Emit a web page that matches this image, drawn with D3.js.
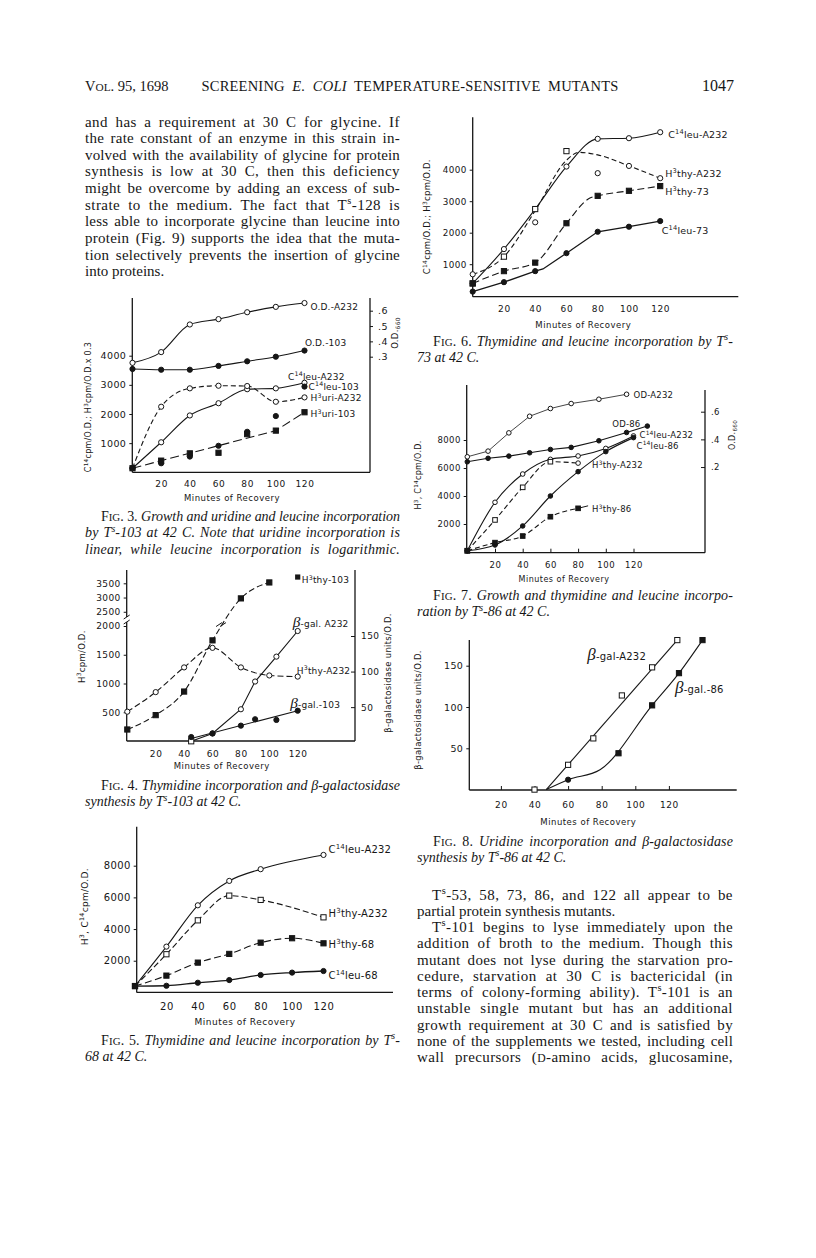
<!DOCTYPE html>
<html>
<head>
<meta charset="utf-8">
<script src="https://cdn.jsdelivr.net/npm/d3@7"></script>
<style>
  html, body { margin: 0; padding: 0; background: #fff; }
  svg { display: block; }
</style>
</head>
<body>
<svg width="816" height="1258"></svg>
<script>
// values (J. Bacteriol. vol 95, p 1047)
// series points are [minutes, value] or [minutes, value, marker]

// fig 3 - growth, uridine + leucine incorporation, Ts-103
var f3Min = [0, 20, 40, 60, 80, 100, 120];
var f3OdA232 = [0.26, 0.33, 0.51, 0.545, 0.59, 0.625, 0.65];
var f3Od103 = [0.22, 0.215, 0.215, 0.24, 0.27, 0.30, 0.34];
var f3LeuA232 = [140, 1030, 1950, 2370, 2850, 2880, 3070];
var f3UriA232 = [140, 2250, 2880, 2970, 2960, 2420, 2570];
var f3Leu103 = [null, 310, 540, 910, 1390, 1930, 2940];
var f3Uri103 = [140, 400, 650, 670, 1310, 1430, 2060];
var f3Uri103Line = [[0, 140], [100, 1430], [120, 2060]];

// fig 4 - thymidine + beta-gal, Ts-103
var f4Thy103 = [[0, 200], [20, 450], [40, 860], [60, 1750], [80, 2970], [100, 3530]];
var f4ThyA232 = [[0, 510], [20, 850], [40, 1280], [60, 1620], [80, 1280], [100, 1140], [120, 1120]];
var f4GalA232 = [[45, 2, 'os'], [60, 13], [80, 47], [90, 86], [105, 121], [120, 157]];
var f4Gal103 = [[45, 8], [60, 13], [80, 24], [90, 33], [105, 32], [120, 45]];
var f4Gal103Line = [[45, 6], [120, 45]];

// fig 5 - thymidine + leucine, Ts-68
var f5LeuA232 = [[0, 400], [20, 2890], [40, 5500], [60, 7040], [80, 7780], [120, 8680]];
var f5ThyA232 = [[0, 400], [20, 2410], [40, 4550], [60, 6110], [80, 5840], [120, 4740]];
var f5Thy68 = [[0, 400], [20, 1060], [40, 1880], [60, 2430], [80, 3140], [100, 3420], [120, 3100]];
var f5Leu68 = [[0, 400], [20, 420], [40, 610], [60, 780], [80, 1100], [100, 1250], [120, 1350]];

// fig 6 - thymidine + leucine, Ts-73
var f6LeuA232 = [[0, 390], [20, 1480], [40, 2750], [60, 4100], [80, 4980], [100, 5000], [120, 5190]];
var f6ThyA232 = [[0, 390, 'os'], [20, 1240, 'os'], [40, 2750, 'os'], [60, 4590, 'os'], [100, 4120], [120, 3730]];
var f6ThyA232Line = [[0, 680], [20, 1240], [40, 2700], [60, 4300], [68, 4550], [80, 4470], [100, 4120], [120, 3730]];
var f6Stray = [[0, 680], [40, 2330], [80, 3890]];
var f6Thy73 = [[0, 390], [20, 780], [40, 1050], [60, 2300], [75, 3100], [80, 3170], [100, 3330], [120, 3480]];
var f6Leu73 = [[0, 130], [20, 430], [40, 780], [45, 850], [60, 1350], [80, 2030], [100, 2190], [120, 2370]];

// fig 7 - growth, thymidine + leucine, Ts-86
var f7OdA232 = [[0, 0.274], [15, 0.315], [30, 0.447], [45, 0.567], [60, 0.623], [75, 0.659], [95, 0.690], [115, 0.726]];
var f7Od86 = [[0, 0.238], [15, 0.263], [30, 0.279], [45, 0.303], [60, 0.327], [75, 0.342], [95, 0.390], [115, 0.450], [130, 0.496]];
var f7LeuA232 = [[0, 90], [20, 3550], [40, 5570], [60, 6620], [80, 6860], [100, 7400], [120, 8290]];
var f7ThyA232 = [[0, 90], [20, 2290], [40, 4620], [60, 6450], [80, 6350, 'oc']];
var f7Leu86 = [[0, 90], [20, 500], [40, 1860], [60, 4000], [80, 5740], [100, 7170], [120, 8170]];
var f7Thy86 = [[0, 90], [20, 670], [40, 1140], [60, 2520], [80, 3120]];

// fig 8 - beta-galactosidase, Ts-86
var f8GalA232 = [[40, 0], [60, 30], [75, 62], [92, 114], [110, 148], [125, 181]];
var f8GalA232Line = [[47, 0], [125, 181]];
var f8Gal86 = [[60, 12, 'fc'], [90, 44], [110, 102], [126, 141], [140, 181]];
var f8Gal86Line = [[47, 0], [60, 12], [79, 24], [110, 102], [126, 141], [140, 181]];

// tick values
var tMin = [20, 40, 60, 80, 100, 120];

// page text
var headLeft = 'V[OL]. 95, 1698';
var headMid = 'SCREENING _E. COLI_ TEMPERATURE-SENSITIVE MUTANTS';
var headPage = '1047';

var leftPara = [
  'and has a requirement at 30 C for glycine. If',
  'the rate constant of an enzyme in this strain in-',
  'volved with the availability of glycine for protein',
  'synthesis is low at 30 C, then this deficiency',
  'might be overcome by adding an excess of sub-',
  'strate to the medium. The fact that T{s}-128 is',
  'less able to incorporate glycine than leucine into',
  'protein (Fig. 9) supports the idea that the muta-',
  'tion selectively prevents the insertion of glycine',
  'into proteins.'
];
var rightPara = [
  'T{s}-53, 58, 73, 86, and 122 all appear to be',
  'partial protein synthesis mutants.',
  'T{s}-101 begins to lyse immediately upon the',
  'addition of broth to the medium. Though this',
  'mutant does not lyse during the starvation pro-',
  'cedure, starvation at 30 C is bactericidal (in',
  'terms of colony-forming ability). T{s}-101 is an',
  'unstable single mutant but has an additional',
  'growth requirement at 30 C and is satisfied by',
  'none of the supplements we tested, including cell',
  'wall precursors ([D]-amino acids, glucosamine,'
];

var cap3 = ['F[IG]. 3. _Growth and uridine and leucine incorporation_',
  '_by T{s}-103 at 42 C. Note that uridine incorporation is_',
  '_linear, while leucine incorporation is logarithmic._'];
var cap4 = ['F[IG]. 4. _Thymidine incorporation and β-galactosidase_',
  '_synthesis by T{s}-103 at 42 C._'];
var cap5 = ['F[IG]. 5. _Thymidine and leucine incorporation by T{s}-_',
  '_68 at 42 C._'];
var cap6 = ['F[IG]. 6. _Thymidine and leucine incorporation by T{s}-_',
  '_73 at 42 C._'];
var cap7 = ['F[IG]. 7. _Growth and thymidine and leucine incorpo-_',
  '_ration by T{s}-86 at 42 C._'];
var cap8 = ['F[IG]. 8. _Uridine incorporation and β-galactosidase_',
  '_synthesis by T{s}-86 at 42 C._'];

var INK = '#161616';
var SANS = 'DejaVu Sans, sans-serif';
var SERIF = 'Liberation Serif, Times New Roman, serif';

var svg = d3.select('svg');
svg.append('rect').attr('width', 816).attr('height', 1258).attr('fill', '#fff');

// mini markup: _italic_ {sup} |sub| [small caps] ~big greek~
function runs(str) {
  var out = [], cur = '', st = { it: false, sup: false, sub: false, sc: false, big: false };
  function push() {
    if (cur) out.push({ t: cur, it: st.it, sup: st.sup, sub: st.sub, sc: st.sc, big: st.big });
    cur = '';
  }
  for (var i = 0; i < str.length; i++) {
    var c = str[i];
    if (c === '_') { push(); st.it = !st.it; }
    else if (c === '{') { push(); st.sup = true; }
    else if (c === '}') { push(); st.sup = false; }
    else if (c === '|') { push(); st.sub = !st.sub; }
    else if (c === '[') { push(); st.sc = true; }
    else if (c === ']') { push(); st.sc = false; }
    else if (c === '~') { push(); st.big = !st.big; }
    else cur += c;
  }
  push();
  return out;
}

function rich(g, x, y, str, o) {
  o = o || {};
  var size = o.size || 14;
  var t = g.append('text').attr('x', x).attr('y', y)
    .attr('font-family', o.family || SERIF).attr('font-size', size).attr('fill', INK);
  if (o.anchor) t.attr('text-anchor', o.anchor);
  if (o.ls) t.attr('letter-spacing', o.ls);
  if (o.transform) t.attr('transform', o.transform);
  var shift = 0;
  runs(str).forEach(function (r) {
    var sp = t.append('tspan').text(r.t);
    var want = r.sup ? -size * 0.4 : (r.sub ? size * 0.25 : 0);
    if (want !== shift) { sp.attr('dy', want - shift); shift = want; }
    if (r.sup || r.sub) sp.attr('font-size', size * 0.7);
    else if (r.sc) sp.attr('font-size', size * 0.78);
    if (r.big) sp.attr('font-size', size * 1.7).attr('font-family', SERIF).attr('font-style', 'italic');
    if (r.it) sp.attr('font-style', 'italic');
  });
  if (o.width) justify(t, o.width);
  return t;
}

// spread a line to the column width: part in the letters, the rest in the word gaps
function justify(t, width) {
  var w = t.node().getComputedTextLength();
  var txt = t.text();
  var n = txt.length;
  var gaps = (txt.match(/ /g) || []).length;
  var extra = width - w;
  if (extra < 0 || gaps === 0) { t.attr('letter-spacing', extra / n); return; }
  var ls = extra * 0.4 / n;
  t.attr('letter-spacing', ls);
  t.attr('word-spacing', (extra - ls * n) / gaps);
}

// ---------- header + body text ----------
var page = svg.append('g');
rich(page, 85, 91, headLeft, { size: 14.5 });
rich(page, 201.5, 91, headMid, { size: 14.5, width: 417 });
rich(page, 702, 91, headPage, { size: 16 });

leftPara.forEach(function (s, i) {
  var lastLine = i === leftPara.length - 1;
  rich(page, 85, 126.5 + i * 16.65, s, { size: 15, width: lastLine ? null : 315 });
});
rightPara.forEach(function (s, i) {
  var ind = (i === 0 || i === 2) ? 15 : 0;
  rich(page, 417 + ind, 899.5 + i * 16.25, s, { size: 15, width: i === 1 ? null : 316 - ind });
});

function caption(lines, x0, w, y0, fullLast) {
  lines.forEach(function (s, i) {
    var ind = i === 0 ? 16 : 0;
    var lastLine = i === lines.length - 1;
    rich(page, x0 + ind, y0 + i * 16.3, s, { size: 14, width: (lastLine && !fullLast) ? null : w - ind });
  });
}
caption(cap3, 85, 315, 521, true);
caption(cap4, 85, 315, 790, false);
caption(cap5, 85, 315, 1045, false);
caption(cap6, 417, 316, 346, false);
caption(cap7, 417, 316, 600, false);
caption(cap8, 417, 316, 845.5, false);

// ---------- chart helpers ----------
function zip(t, v) {
  return t.map(function (d, i) { return [d, v[i]]; }).filter(function (d) { return d[1] != null; });
}

function frame(g, f) {
  var p = [[f.left, f.top, f.left, f.bottom], [f.left, f.bottom, f.end, f.bottom]];
  if (f.right) p.push([f.right, f.rtop || f.top, f.right, f.bottom]);
  g.selectAll(null).data(p).enter().append('line')
    .attr('x1', function (d) { return d[0]; }).attr('y1', function (d) { return d[1]; })
    .attr('x2', function (d) { return d[2]; }).attr('y2', function (d) { return d[3]; })
    .attr('stroke', INK).attr('stroke-width', 1.3);
}

function yAxis(g, y, x0, vals, o) {
  var ax = (o.right ? d3.axisRight(y) : d3.axisLeft(y))
    .tickValues(vals).tickSize(o.inward ? -4 : 3).tickPadding(o.pad || 3)
    .tickFormat(o.fmt || d3.format('d'));
  var a = g.append('g').attr('transform', 'translate(' + x0 + ',0)').call(ax);
  a.select('.domain').remove();
  a.selectAll('line').attr('stroke', INK).attr('stroke-width', 1);
  a.selectAll('text').attr('font-family', SANS).attr('font-size', o.size || 9)
    .attr('fill', INK).attr('letter-spacing', 0.4);
}

function xAxis(g, x, y0, o) {
  var size = o.size || 9;
  var ax = d3.axisBottom(x).tickValues(tMin).tickSize(o.ticks ? -4 : 0)
    .tickPadding(o.base - 0.71 * size).tickFormat(d3.format('d'));
  var a = g.append('g').attr('transform', 'translate(0,' + y0 + ')').call(ax);
  a.select('.domain').remove();
  a.selectAll('line').attr('stroke', INK).attr('stroke-width', 1);
  a.selectAll('text').attr('font-family', SANS).attr('font-size', size)
    .attr('fill', INK).attr('letter-spacing', 0.6);
}

function title(g, x, y, s, size) {
  rich(g, x, y, s, { family: SANS, size: size || 8.5, anchor: 'middle', ls: 0.5 });
}
function vtitle(g, cx, cy, s, size) {
  rich(g, 0, 0, s, { family: SANS, size: size || 8.5, anchor: 'middle', ls: 0.3,
    transform: 'translate(' + (cx + 3) + ',' + cy + ') rotate(-90)' });
}
function tag(g, px, py, s, size) {
  return rich(g, px, py, s, { family: SANS, size: size || 9, ls: 0.2 });
}

function plot(g, x, y, pts, o) {
  var lp = o.line || pts;
  if (o.line !== false) {
    g.append('path').datum(lp)
      .attr('fill', 'none').attr('stroke', INK).attr('stroke-width', o.w || 1.1)
      .attr('stroke-dasharray', o.dash || null)
      .attr('d', d3.line()
        .x(function (d) { return x(d[0]); })
        .y(function (d) { return y(d[1]); })
        .curve(o.curve || d3.curveLinear));
  }
  if (!o.mark) return;
  var kind = function (d) { return d[2] || o.mark; };
  var R = o.r || 2.6;
  g.selectAll(null).data(pts.filter(function (d) { return kind(d)[1] === 'c'; }))
    .enter().append('circle')
    .attr('cx', function (d) { return x(d[0]); }).attr('cy', function (d) { return y(d[1]); })
    .attr('r', R)
    .attr('fill', function (d) { return kind(d)[0] === 'o' ? '#fff' : INK; })
    .attr('stroke', INK).attr('stroke-width', 1);
  g.selectAll(null).data(pts.filter(function (d) { return kind(d)[1] === 's'; }))
    .enter().append('rect')
    .attr('x', function (d) { return x(d[0]) - R; }).attr('y', function (d) { return y(d[1]) - R; })
    .attr('width', R * 2).attr('height', R * 2)
    .attr('fill', function (d) { return kind(d)[0] === 'o' ? '#fff' : INK; })
    .attr('stroke', INK).attr('stroke-width', 1);
}

var smooth = d3.curveMonotoneX;
var odFmt = function (d) { return d3.format('.1f')(d).replace(/^0/, ''); };
function last(a) { return a[a.length - 1]; }

// ---------- fig 3 ----------
(function () {
  var g = svg.append('g');
  var x = d3.scaleLinear().domain([0, 120]).range([132.5, 304.5]);
  var y = d3.scaleLinear().domain([0, 4000]).range([472.3, 355.7]);
  var yr = d3.scaleLinear().domain([0.3, 0.6]).range([356.7, 310.7]);
  frame(g, { left: 132.3, top: 298, bottom: 472.3, end: 370, right: 370 });
  yAxis(g, y, 132.3, [1000, 2000, 3000, 4000], { size: 9.5 });
  yAxis(g, yr, 370, [0.3, 0.4, 0.5, 0.6], { right: true, size: 9.5, fmt: odFmt, pad: 5 });
  xAxis(g, x, 472.3, { base: 15 });
  title(g, 232, 500.5, 'Minutes of Recovery');
  vtitle(g, 88.3, 407, 'C{14}cpm/O.D.; H{3}cpm/O.D.x 0.3', 8);
  vtitle(g, 395, 333, 'O.D.|660|', 8.5);

  var odA = zip(f3Min, f3OdA232), od1 = zip(f3Min, f3Od103);
  var leuA = zip(f3Min, f3LeuA232), uriA = zip(f3Min, f3UriA232);
  var leu1 = zip(f3Min, f3Leu103), uri1 = zip(f3Min, f3Uri103);
  plot(g, x, yr, odA, { curve: smooth, mark: 'oc' });
  plot(g, x, yr, od1, { curve: smooth, mark: 'fc' });
  plot(g, x, y, leuA, { curve: smooth, mark: 'oc' });
  plot(g, x, y, uriA, { curve: smooth, mark: 'oc', dash: '5,3' });
  plot(g, x, y, uri1, { line: f3Uri103Line, mark: 'fs', dash: '9,4' });
  plot(g, x, y, leu1, { line: false, mark: 'fc' });

  tag(g, x(120) + 6, yr(last(odA)[1]) + 7, 'O.D.-A232');
  tag(g, x(120) + 0.5, yr(last(od1)[1]) - 4.5, 'O.D.-103');
  tag(g, x(120) - 16.5, y(last(leuA)[1]) - 3, 'C{14}leu-A232');
  tag(g, x(120) + 4, y(last(leu1)[1]) + 3.5, 'C{14}leu-103');
  tag(g, x(120) + 6, y(last(uriA)[1]) + 4, 'H{3}uri-A232');
  tag(g, x(120) + 6, y(last(uri1)[1]) + 5, 'H{3}uri-103');
})();

// ---------- fig 4 ----------
(function () {
  var g = svg.append('g');
  var x = d3.scaleLinear().domain([0, 120]).range([127.3, 297.7]);
  var y = d3.scaleLinear().domain([0, 2000, 3500]).range([741, 626, 583.3]);
  var yr = d3.scaleLinear().domain([0, 150]).range([742.7, 636]);
  frame(g, { left: 126.7, top: 570, bottom: 741, end: 355, right: 355 });
  yAxis(g, y, 126.7, [500, 1000, 1500, 2000, 2500, 3000, 3500], { size: 9 });
  yAxis(g, yr, 355, [50, 100, 150], { right: true, inward: true, size: 9, pad: 6 });
  // axis break
  g.append('rect').attr('x', 124).attr('y', y(2000) - 9).attr('width', 6).attr('height', 5).attr('fill', '#fff');
  [y(2000) - 4, y(2000) - 9].forEach(function (yy) {
    g.append('line').attr('x1', 123.7).attr('y1', yy + 2).attr('x2', 129.7).attr('y2', yy - 2)
      .attr('stroke', INK).attr('stroke-width', 1);
  });
  xAxis(g, x, 741, { base: 16 });
  title(g, 221.7, 769, 'Minutes of Recovery');
  vtitle(g, 81.7, 656.7, 'H{3}cpm/O.D.', 8.5);
  vtitle(g, 388.3, 673, 'β-galactosidase units/O.D.', 8.5);

  plot(g, x, y, f4Thy103, { curve: smooth, mark: 'fs', dash: '6,3' });
  plot(g, x, y, f4ThyA232, { curve: smooth, mark: 'oc', dash: '6,3' });
  plot(g, x, yr, f4GalA232, { mark: 'oc' });
  plot(g, x, yr, f4Gal103, { line: f4Gal103Line, mark: 'fc' });
  // break marks on the H3thy-103 curve
  [-2, 2].forEach(function (d) {
    g.append('line').attr('x1', x(66) + d - 3).attr('y1', y(2050) + 2)
      .attr('x2', x(66) + d + 3).attr('y2', y(2050) - 2).attr('stroke', INK);
  });

  var t = last(f4Thy103);
  g.append('rect').attr('x', x(120) - 2.6).attr('y', y(t[1]) - 8).attr('width', 5.2).attr('height', 5.2).attr('fill', INK);
  tag(g, x(120) + 4, y(t[1]) + 1, 'H{3}thy-103');
  tag(g, x(120) - 5, yr(last(f4GalA232)[1]) - 4, '~β~-gal. A232');
  tag(g, x(120) - 1, y(last(f4ThyA232)[1]) - 3, 'H{3}thy-A232');
  tag(g, x(120) - 7.5, yr(last(f4Gal103)[1]) - 3, '~β~-gal.-103');
})();

// ---------- fig 5 ----------
(function () {
  var g = svg.append('g');
  var x = d3.scaleLinear().domain([0, 120]).range([135, 323.5]);
  var y = d3.scaleLinear().domain([0, 8000]).range([992.4, 865.7]);
  frame(g, { left: 136.7, top: 826.7, bottom: 992.4, end: 393 });
  yAxis(g, y, 136.7, [2000, 4000, 6000, 8000], { size: 10 });
  xAxis(g, x, 992.4, { base: 18, size: 10 });
  title(g, 245, 1025, 'Minutes of Recovery', 9);
  vtitle(g, 85, 906.7, 'H{3}, C{14}cpm/O.D.', 9);

  plot(g, x, y, f5LeuA232, { curve: smooth, mark: 'oc' });
  plot(g, x, y, f5ThyA232, { curve: smooth, mark: 'os', dash: '6,3' });
  plot(g, x, y, f5Thy68, { curve: smooth, mark: 'fs', dash: '7,3.5' });
  plot(g, x, y, f5Leu68, { curve: smooth, mark: 'fc', w: 1.3 });

  tag(g, x(120) + 5, y(last(f5LeuA232)[1]) - 1.5, 'C{14}leu-A232', 10);
  tag(g, x(120) + 5, y(last(f5ThyA232)[1]) + 0, 'H{3}thy-A232', 10);
  tag(g, x(120) + 5, y(last(f5Thy68)[1]) + 5, 'H{3}thy-68', 10);
  tag(g, x(120) + 5, y(last(f5Leu68)[1]) + 8, 'C{14}leu-68', 10);
})();

// ---------- fig 6 ----------
(function () {
  var g = svg.append('g');
  var x = d3.scaleLinear().domain([0, 120]).range([472.7, 660.2]);
  var y = d3.scaleLinear().domain([0, 4000]).range([295.7, 169.7]);
  frame(g, { left: 472.7, top: 117.3, bottom: 296.7, end: 738.3 });
  yAxis(g, y, 472.7, [1000, 2000, 3000, 4000], { size: 8.8 });
  xAxis(g, x, 296.7, { base: 15.3 });
  title(g, 583.3, 328, 'Minutes of Recovery');
  vtitle(g, 427.3, 216.7, 'C{14}cpm/O.D.; H{3}cpm/O.D.', 8.5);

  plot(g, x, y, f6LeuA232, { curve: smooth, mark: 'oc' });
  plot(g, x, y, f6ThyA232, { line: f6ThyA232Line, curve: smooth, mark: 'oc', dash: '5,3' });
  plot(g, x, y, f6Stray, { line: false, mark: 'oc' });
  plot(g, x, y, f6Thy73.filter(function (d) { return d[0] !== 75; }), { line: f6Thy73, curve: smooth, mark: 'fs', dash: '7,3.5' });
  plot(g, x, y, f6Leu73.filter(function (d) { return d[0] !== 45; }), { line: f6Leu73, mark: 'fc', w: 1.3 });

  tag(g, x(120) + 8, y(last(f6LeuA232)[1]) + 6, 'C{14}leu-A232', 9.5);
  tag(g, x(120) + 5, y(last(f6ThyA232)[1]) - 1, 'H{3}thy-A232', 9.5);
  tag(g, x(120) + 5, y(last(f6Thy73)[1]) + 8.5, 'H{3}thy-73', 9.5);
  tag(g, x(120) + 1.5, y(last(f6Leu73)[1]) + 13, 'C{14}leu-73', 9.5);
})();

// ---------- fig 7 ----------
(function () {
  var g = svg.append('g');
  var x = d3.scaleLinear().domain([0, 120]).range([467.3, 633.5]);
  var y = d3.scaleLinear().domain([0, 8000]).range([552, 440]);
  var yr = d3.scaleLinear().domain([0, 0.6]).range([494.7, 411.7]);
  frame(g, { left: 466.7, top: 385, bottom: 552.7, end: 705, right: 705, rtop: 390 });
  yAxis(g, y, 466.7, [2000, 4000, 6000, 8000], { size: 8.5 });
  yAxis(g, yr, 705, [0.2, 0.4, 0.6], { right: true, inward: true, size: 8.5, fmt: odFmt, pad: 6 });
  xAxis(g, x, 552.7, { base: 15.3, ticks: true, size: 8.5 });
  title(g, 564, 582, 'Minutes of Recovery', 8);
  vtitle(g, 418, 475, 'H{3}, C{14}cpm/O.D.', 8);
  vtitle(g, 731.7, 435, 'O.D.|660|', 8);

  plot(g, x, yr, f7OdA232, { mark: 'oc', w: 0.8, r: 2.3 });
  plot(g, x, yr, f7Od86, { mark: 'fc', r: 2.3 });
  plot(g, x, y, f7LeuA232, { curve: smooth, mark: 'oc', r: 2.3 });
  plot(g, x, y, f7ThyA232, { curve: smooth, mark: 'os', dash: '5,3', r: 2.3 });
  plot(g, x, y, f7Leu86, { curve: smooth, mark: 'fc', r: 2.3 });
  plot(g, x, y, f7Thy86, { curve: smooth, mark: 'fs', dash: '5,3', r: 2.3 });

  var t = last(f7Thy86);
  g.append('line').attr('x1', x(t[0])).attr('y1', y(t[1]))
    .attr('x2', x(t[0]) + 10).attr('y2', y(t[1]) - 2.5).attr('stroke', INK);
  tag(g, x(last(f7OdA232)[0]) + 7, yr(last(f7OdA232)[1]) + 3.5, 'OD-A232', 8.5);
  tag(g, x(last(f7Od86)[0]) - 35, yr(last(f7Od86)[1]) + 1, 'OD-86', 8.5);
  tag(g, x(120) + 6, y(last(f7LeuA232)[1]) + 2.5, 'C{14}leu-A232', 8.5);
  tag(g, x(120) + 3, y(last(f7Leu86)[1]) + 11, 'C{14}leu-86', 8.5);
  tag(g, x(last(f7ThyA232)[0]) + 14, y(last(f7ThyA232)[1]) + 5, 'H{3}thy-A232', 8.5);
  tag(g, x(t[0]) + 14, y(t[1]) + 4, 'H{3}thy-86', 8.5);
})();

// ---------- fig 8 ----------
(function () {
  var g = svg.append('g');
  var x = d3.scaleLinear().domain([0, 140]).range([467.3, 702.5]);
  var y = d3.scaleLinear().domain([0, 150]).range([789.6, 665.7]);
  frame(g, { left: 469.3, top: 640, bottom: 790, end: 736.7 });
  yAxis(g, y, 469.3, [50, 100, 150], { size: 9.5 });
  xAxis(g, x, 790, { base: 18, ticks: true, size: 9 });
  title(g, 588.3, 825, 'Minutes of Recovery', 8.5);
  vtitle(g, 418, 710, 'β-galactosidase units/O.D.', 8.5);

  plot(g, x, y, f8GalA232, { line: f8GalA232Line, mark: 'os' });
  plot(g, x, y, f8Gal86, { line: f8Gal86Line, curve: smooth, mark: 'fs' });

  tag(g, x(last(f8GalA232)[0]) - 90, y(last(f8GalA232)[1]) + 20, '~β~-gal-A232', 10);
  tag(g, x(126) - 4, y(141) + 20, '~β~-gal.-86', 10);
})();
</script>
</body>
</html>
